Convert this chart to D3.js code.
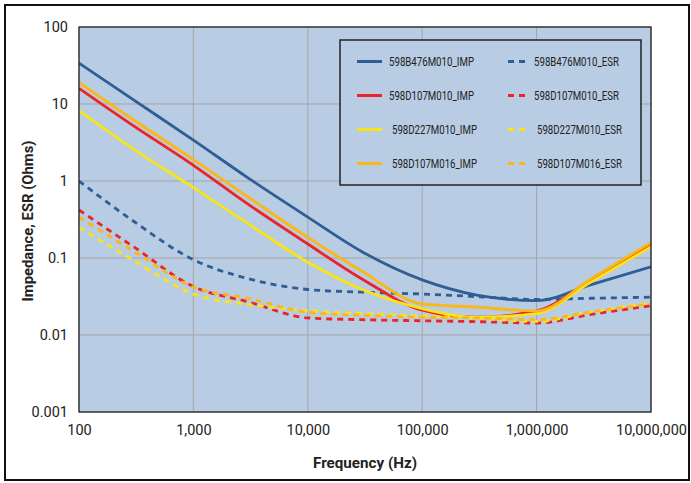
<!DOCTYPE html>
<html>
<head>
<meta charset="utf-8">
<script src="https://cdn.jsdelivr.net/npm/d3@7"></script>
<style>
  body { margin: 0; background: #fff; }
  svg { display: block; font-family: Roboto, "Liberation Sans", sans-serif; }
</style>
</head>
<body>
<svg id="chart" width="691" height="483"></svg>
<script>
// data
const freqs = [100, 300, 1000, 3000, 10000, 30000, 100000, 300000, 1000000, 3000000, 10000000];
const b476Imp = [34, 11.3, 3.4, 1.1, 0.34, 0.12, 0.052, 0.033, 0.028, 0.045, 0.077];
const b476Esr = [1.0, 0.30, 0.095, 0.054, 0.039, 0.036, 0.034, 0.0315, 0.029, 0.030, 0.031];
const d107Imp = [16, 5.2, 1.6, 0.5, 0.152, 0.053, 0.021, 0.017, 0.0205, 0.052, 0.15];
const d107Esr = [0.42, 0.14, 0.0425, 0.027, 0.0167, 0.0158, 0.0153, 0.0149, 0.0143, 0.0185, 0.024];
const d227Imp = [8.2, 2.6, 0.82, 0.28, 0.088, 0.039, 0.022, 0.017, 0.019, 0.049, 0.14];
const d227Esr = [0.25, 0.093, 0.034, 0.025, 0.0207, 0.019, 0.0177, 0.0166, 0.015, 0.020, 0.026];
const d107m16Imp = [19, 6.2, 1.9, 0.62, 0.185, 0.067, 0.0253, 0.023, 0.0205, 0.054, 0.158];
const d107m16Esr = [0.34, 0.123, 0.042, 0.030, 0.0197, 0.018, 0.017, 0.0167, 0.0158, 0.020, 0.0255];
const xTicks = [100, 1000, 10000, 100000, 1000000, 10000000];
const yTicks = [0.001, 0.01, 0.1, 1, 10, 100];

const series = [
  { name: "598B476M010_IMP", values: b476Imp, color: "#2f5d95", dash: null },
  { name: "598B476M010_ESR", values: b476Esr, color: "#2f5d95", dash: "6,5" },
  { name: "598D107M010_IMP", values: d107Imp, color: "#ec2327", dash: null },
  { name: "598D107M010_ESR", values: d107Esr, color: "#ec2327", dash: "6,5" },
  { name: "598D227M010_IMP", values: d227Imp, color: "#f7e51a", dash: null },
  { name: "598D227M010_ESR", values: d227Esr, color: "#f7e51a", dash: "6,5" },
  { name: "598D107M016_IMP", values: d107m16Imp, color: "#fbb715", dash: null },
  { name: "598D107M016_ESR", values: d107m16Esr, color: "#fbb715", dash: "6,5" },
];

// layout
const plot = { left: 79, right: 651, top: 27, bottom: 412 };
const svg = d3.select("#chart");

// outer frame
svg.append("rect")
  .attr("x", 5).attr("y", 5).attr("width", 684).attr("height", 475)
  .attr("fill", "#fff").attr("stroke", "#111").attr("stroke-width", 2);

const x = d3.scaleLog().domain([100, 1e7]).range([plot.left, plot.right]);
const y = d3.scaleLog().domain([0.001, 100]).range([plot.bottom, plot.top]);

// plot area
svg.append("rect")
  .attr("x", plot.left).attr("y", plot.top)
  .attr("width", plot.right - plot.left).attr("height", plot.bottom - plot.top)
  .attr("fill", "#b8cce4");

// gridlines
svg.append("g").selectAll("line").data(xTicks).enter().append("line")
  .attr("x1", d => x(d)).attr("x2", d => x(d))
  .attr("y1", plot.top).attr("y2", plot.bottom)
  .attr("stroke", "#a5a5a5").attr("stroke-width", 1);
svg.append("g").selectAll("line").data(yTicks).enter().append("line")
  .attr("x1", plot.left).attr("x2", plot.right)
  .attr("y1", d => y(d)).attr("y2", d => y(d))
  .attr("stroke", "#a5a5a5").attr("stroke-width", 1);

// axes
const xAxis = svg.append("g")
  .attr("transform", "translate(0," + plot.bottom + ")")
  .call(d3.axisBottom(x).tickValues(xTicks).tickFormat(d3.format(",")).tickSize(0).tickPadding(13));
const yAxis = svg.append("g")
  .attr("transform", "translate(" + plot.left + ",0)")
  .call(d3.axisLeft(y).tickValues(yTicks).tickFormat(d => String(d)).tickSize(0).tickPadding(11));
[xAxis, yAxis].forEach(function (a) {
  a.select(".domain").remove();
  a.selectAll("text").attr("font-size", 14.5).attr("fill", "#222")
    .attr("font-family", "Roboto, sans-serif");
});

// curves
const line = d3.line()
  .x(function (d) { return x(d[0]); })
  .y(function (d) { return y(d[1]); })
  .curve(d3.curveMonotoneX);

svg.append("clipPath").attr("id", "clip").append("rect")
  .attr("x", plot.left).attr("y", plot.top)
  .attr("width", plot.right - plot.left).attr("height", plot.bottom - plot.top);

svg.append("g").attr("clip-path", "url(#clip)")
  .selectAll("path").data(series).enter().append("path")
  .attr("d", function (s) { return line(freqs.map(function (f, i) { return [f, s.values[i]]; })); })
  .attr("fill", "none")
  .attr("stroke", function (s) { return s.color; })
  .attr("stroke-width", 2.8)
  .attr("stroke-dasharray", function (s) { return s.dash; });

// plot border
svg.append("rect")
  .attr("x", plot.left).attr("y", plot.top)
  .attr("width", plot.right - plot.left).attr("height", plot.bottom - plot.top)
  .attr("fill", "none").attr("stroke", "#1a1a1a").attr("stroke-width", 1.2);

// legend
const legend = svg.append("g");
legend.append("rect")
  .attr("x", 340).attr("y", 40).attr("width", 301).attr("height", 145)
  .attr("fill", "#b8cce4").attr("stroke", "#222").attr("stroke-width", 1.5);

const rowY = [61.5, 95.5, 129.5, 163.5];
series.forEach(function (s, i) {
  const row = Math.floor(i / 2), col = i % 2;
  const ly = rowY[row];
  const shift = row >= 2 ? 3 : 0;
  if (col === 0) {
    legend.append("line").attr("x1", 357).attr("x2", 382).attr("y1", ly).attr("y2", ly)
      .attr("stroke", s.color).attr("stroke-width", 3);
  } else {
    legend.append("line").attr("x1", 508).attr("x2", 525).attr("y1", ly).attr("y2", ly)
      .attr("stroke", s.color).attr("stroke-width", 3).attr("stroke-dasharray", "6,5");
  }
  legend.append("text")
    .attr("x", (col === 0 ? 389 : 534) + shift).attr("y", ly)
    .attr("dy", "0.35em")
    .attr("font-size", 12.5).attr("fill", "#222")
    .attr("textLength", 85).attr("lengthAdjust", "spacingAndGlyphs")
    .text(s.name);
});

// axis titles
svg.append("text")
  .attr("x", (plot.left + plot.right) / 2).attr("y", 468)
  .attr("text-anchor", "middle").attr("font-size", 14).attr("font-weight", "bold")
  .attr("fill", "#222").attr("textLength", 104).attr("lengthAdjust", "spacingAndGlyphs")
  .text("Frequency (Hz)");

svg.append("text")
  .attr("transform", "translate(33,221) rotate(-90)")
  .attr("text-anchor", "middle").attr("font-size", 14).attr("font-weight", "bold")
  .attr("fill", "#222").attr("textLength", 161).attr("lengthAdjust", "spacingAndGlyphs")
  .text("Impedance, ESR (Ohms)");
</script>
</body>
</html>
